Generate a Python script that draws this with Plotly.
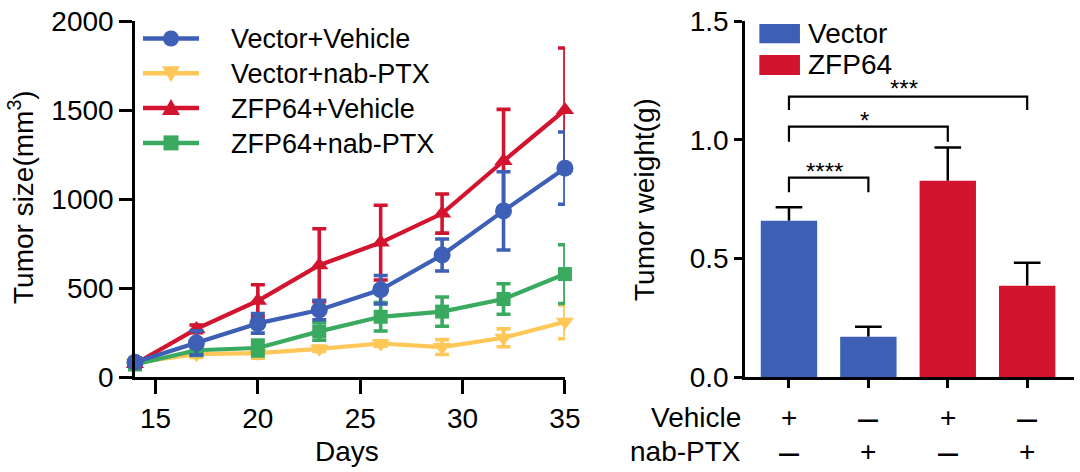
import plotly.graph_objects as go

# ---------------- data ----------------
days = [14, 17, 20, 23, 26, 29, 32, 35]

vec_veh = [85, 193, 303, 378, 492, 687, 935, 1175]
vec_veh_err = [25, 68, 55, 55, 80, 90, 220, 203]

vec_ptx = [82, 130, 136, 160, 190, 170, 222, 312]
vec_ptx_err = [20, 18, 28, 15, 15, 42, 50, 95]

zfp_veh = [75, 272, 430, 630, 757, 920, 1215, 1502]
zfp_veh_err = [20, 22, 90, 205, 210, 110, 290, 348]

zfp_ptx = [72, 152, 165, 258, 340, 369, 440, 580]
zfp_ptx_err = [15, 20, 45, 50, 80, 82, 86, 165]

bar_groups = ["Vector", "Vector", "ZFP64", "ZFP64"]
bar_values = [0.66, 0.171, 0.828, 0.386]
bar_errors = [0.056, 0.042, 0.14, 0.097]

vehicle_row = ["+", "\u2013", "+", "\u2013"]
ptx_row = ["\u2013", "+", "\u2013", "+"]

comparisons = [(0, 1, "****"), (0, 2, "*"), (0, 3, "***")]

# ---------------- styling ----------------
FONT = "Arial, Liberation Sans, sans-serif"
BLUE = "rgb(61,95,182)"
YELLOW = "rgb(255,199,88)"
RED = "rgb(210,20,46)"
GREEN = "rgb(58,170,96)"
FS = 28
W, H = 1080, 472


def px(xp):
    return xp / W


def py(yp):
    return 1 - yp / H


fig = go.Figure()

series = [
    ("Vector+nab-PTX", vec_ptx, vec_ptx_err, YELLOW, "triangle-down", 16),
    ("ZFP64+nab-PTX", zfp_ptx, zfp_ptx_err, GREEN, "square", 14),
    ("ZFP64+Vehicle", zfp_veh, zfp_veh_err, RED, "triangle-up", 16),
    ("Vector+Vehicle", vec_veh, vec_veh_err, BLUE, "circle", 17),
]
for name, ys, errs, col, sym, size in series:
    fig.add_trace(go.Scatter(
        x=days, y=ys, name=name, mode="lines+markers",
        line=dict(color=col, width=4.2),
        marker=dict(color=col, symbol=sym, size=size),
        error_y=dict(type="data", array=errs, visible=True, color=col,
                     thickness=3.6, width=7),
        showlegend=False, cliponaxis=False,
        xaxis="x", yaxis="y",
    ))

colors = {"Vector": BLUE, "ZFP64": RED}
for grp in ["Vector", "ZFP64"]:
    xs = [i for i, g in enumerate(bar_groups) if g == grp]
    fig.add_trace(go.Bar(
        x=xs, y=[bar_values[i] for i in xs], name=grp,
        marker=dict(color=colors[grp], line=dict(width=0)),
        width=0.71, showlegend=False,
        xaxis="x2", yaxis="y2",
    ))

shapes = []
annotations = []

# bar error bars (upper only, drawn behind the bars)
cap = 0.168
for i, (v, e) in enumerate(zip(bar_values, bar_errors)):
    shapes.append(dict(type="line", xref="x2", yref="y2", x0=i, x1=i, y0=v, y1=v + e,
                       line=dict(color="black", width=2.5), layer="below"))
    shapes.append(dict(type="line", xref="x2", yref="y2", x0=i - cap, x1=i + cap,
                       y0=v + e, y1=v + e,
                       line=dict(color="black", width=2.5), layer="below"))

# significance brackets
bracket_levels = [(0.841, 0.78, 0.867), (1.056, 0.993, 1.082), (1.1825, 1.126, 1.217)]
for (a, b, label), (top, leg, ty) in zip(comparisons, bracket_levels):
    shapes.append(dict(type="path", xref="x2", yref="y2",
                       path=f"M {a},{leg} L {a},{top} L {b},{top} L {b},{leg}",
                       line=dict(color="black", width=2.2)))
    annotations.append(dict(x=(a + b) / 2 - 0.05, y=ty, xref="x2", yref="y2",
                            text=label, showarrow=False, xanchor="center",
                            yanchor="middle",
                            font=dict(family=FONT, size=24, color="black")))

# left legend (drawn as decoration)
legend_rows = [("Vector+Vehicle", BLUE, "circle"),
               ("Vector+nab-PTX", YELLOW, "tdown"),
               ("ZFP64+Vehicle", RED, "tup"),
               ("ZFP64+nab-PTX", GREEN, "square")]
row_y = [38.5, 73.3, 108.1, 142.9]
lx0, lx1, mx, tx = 143, 199, 171, 229
for (name, col, kind), yy in zip(legend_rows, row_y):
    shapes.append(dict(type="line", xref="paper", yref="paper",
                       x0=px(lx0), x1=px(lx1), y0=py(yy), y1=py(yy),
                       line=dict(color=col, width=4.5)))
    if kind == "circle":
        shapes.append(dict(type="circle", xref="paper", yref="paper",
                           x0=px(mx - 8), x1=px(mx + 8), y0=py(yy + 8), y1=py(yy - 8),
                           fillcolor=col, line=dict(width=0)))
    elif kind == "square":
        shapes.append(dict(type="rect", xref="paper", yref="paper",
                           x0=px(mx - 7.5), x1=px(mx + 7.5), y0=py(yy + 7.5), y1=py(yy - 7.5),
                           fillcolor=col, line=dict(width=0)))
    elif kind == "tdown":
        shapes.append(dict(type="path", xref="paper", yref="paper",
                           path=f"M {px(mx-9)},{py(yy-7)} L {px(mx+9)},{py(yy-7)} "
                                f"L {px(mx)},{py(yy+9)} Z",
                           fillcolor=col, line=dict(width=0)))
    else:
        shapes.append(dict(type="path", xref="paper", yref="paper",
                           path=f"M {px(mx-9)},{py(yy+7)} L {px(mx+9)},{py(yy+7)} "
                                f"L {px(mx)},{py(yy-9)} Z",
                           fillcolor=col, line=dict(width=0)))
    annotations.append(dict(x=px(tx), y=py(yy + 1), xref="paper", yref="paper",
                            text=name, showarrow=False, xanchor="left",
                            yanchor="middle",
                            font=dict(family=FONT, size=27, color="black")))

# right legend
leg_items = [("Vector", BLUE, 0.9083, 0.9492), ("ZFP64", RED, 0.8411, 0.8835)]
for name, col, y0, y1 in leg_items:
    shapes.append(dict(type="rect", xref="paper", yref="paper",
                       x0=0.7031, x1=0.7407, y0=y0, y1=y1,
                       fillcolor=col, line=dict(width=0)))
    annotations.append(dict(x=0.7463, y=(y0 + y1) / 2, xref="paper", yref="paper",
                            text=name, showarrow=False, xanchor="left",
                            yanchor="middle",
                            font=dict(family=FONT, size=FS, color="black")))

# treatment table
for label, row, yp in [("Vehicle", vehicle_row, 0.1165), ("nab-PTX", ptx_row, 0.0438)]:
    annotations.append(dict(x=0.688, y=yp, xref="paper", yref="paper",
                            text=label, showarrow=False, xanchor="right",
                            yanchor="middle",
                            font=dict(family=FONT, size=FS, color="black")))
    for i, sym in enumerate(row):
        annotations.append(dict(x=i, y=yp, xref="x2", yref="paper",
                                text=sym, showarrow=False, xanchor="center",
                                yanchor="middle",
                                font=dict(family=FONT, size=FS if sym == "+" else 36,
                                          color="black")))

# axis titles
annotations += [
    dict(x=px(346.7), y=py(451.7), xref="paper", yref="paper", text="Days",
         showarrow=False, xanchor="center", yanchor="middle",
         font=dict(family=FONT, size=FS, color="black")),
    dict(x=px(21), y=py(197), xref="paper", yref="paper",
         text="Tumor size(mm<sup>3</sup>)", textangle=-90, showarrow=False,
         xanchor="center", yanchor="middle",
         font=dict(family=FONT, size=FS, color="black")),
    dict(x=px(644), y=py(200), xref="paper", yref="paper",
         text="Tumor weight(g)", textangle=-90, showarrow=False,
         xanchor="center", yanchor="middle",
         font=dict(family=FONT, size=FS, color="black")),
]

axis_common = dict(showline=True, linecolor="black", linewidth=2.5,
                   showgrid=False, zeroline=False, ticks="outside",
                   tickcolor="black", tickwidth=2.5, automargin=False,
                   tickfont=dict(family=FONT, size=FS, color="black"))

fig.update_layout(
    width=W, height=H,
    margin=dict(l=0, r=0, t=0, b=0, autoexpand=False),
    paper_bgcolor="white", plot_bgcolor="white",
    font=dict(family=FONT, color="black"),
    showlegend=False,
    xaxis=dict(domain=[0.125, 0.5231], range=[14, 35],
               tickvals=[15, 20, 25, 30, 35], ticklen=14, **axis_common),
    yaxis=dict(domain=[0.2006, 0.9549], range=[0, 2000],
               tickvals=[0, 500, 1000, 1500, 2000], ticklen=13, **axis_common),
    xaxis2=dict(domain=[0.6898, 0.9944], range=[-0.554, 3.589],
                tickvals=[0, 1, 2, 3], showticklabels=False, ticklen=8,
                anchor="y2", **axis_common),
    yaxis2=dict(domain=[0.2006, 0.9549], range=[0, 1.5],
                tickvals=[0, 0.5, 1.0, 1.5], tickformat=".1f", ticklen=8,
                anchor="x2", **axis_common),
    shapes=shapes, annotations=annotations,
)

fig.write_html("out.html",
               config={"displayModeBar": False},
               post_script="document.body.style.margin='0px';"
                           "document.body.style.overflow='hidden';")
